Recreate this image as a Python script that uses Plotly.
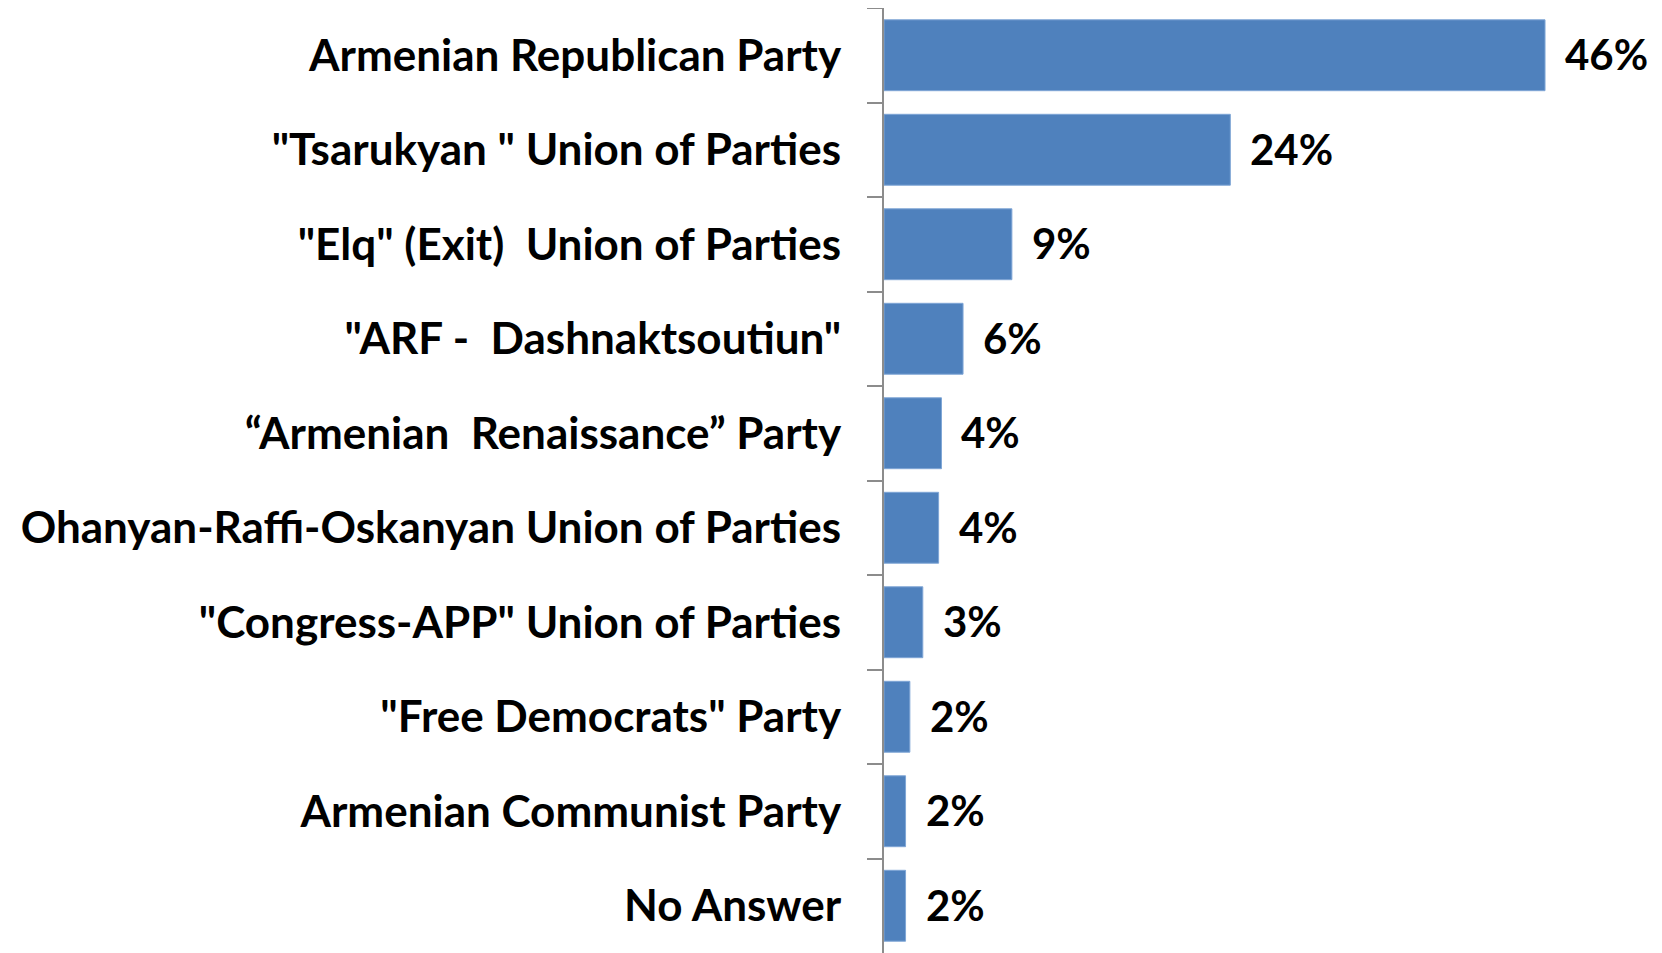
import plotly.graph_objects as go

categories = [
    "Armenian Republican Party",
    "\"Tsarukyan \" Union of Parties",
    "\"Elq\" (Exit)  Union of Parties",
    "\"ARF -  Dashnaktsoutiun\"",
    "“Armenian  Renaissance” Party",
    "Ohanyan-Raffi-Oskanyan Union of Parties",
    "\"Congress-APP\" Union of Parties",
    "\"Free Democrats\" Party",
    "Armenian Communist Party",
    "No Answer",
]
values = [46.0, 24.1, 8.9, 5.5, 4.0, 3.8, 2.7, 1.8, 1.5, 1.5]
labels = ["46%", "24%", "9%", "6%", "4%", "4%", "3%", "2%", "2%", "2%"]

FONT = "Lato"

fig = go.Figure()
fig.add_trace(go.Bar(
    x=values, y=categories, orientation="h",
    marker=dict(color="#4F81BD", line=dict(color="#7FA6D6", width=1)),
    width=0.75, hoverinfo="skip",
))

for c, v, t in zip(categories, values, labels):
    fig.add_annotation(x=v, y=c, text=t, showarrow=False, xanchor="left",
                       xshift=18, yshift=1,
                       font=dict(family=FONT, size=42, color="#000000", weight="bold"))

fig.update_layout(
    width=1654, height=945,
    margin=dict(l=876, r=0, t=0, b=0),
    paper_bgcolor="#ffffff", plot_bgcolor="rgba(0,0,0,0)",
    showlegend=False,
    bargap=0.25,
    font=dict(family=FONT, weight="bold"),
)
fig.update_xaxes(range=[0, (1662 - 884) / 14.37], showgrid=False, showticklabels=False,
                 zeroline=False, showline=False, ticks="")
fig.update_yaxes(categoryorder="array", categoryarray=categories, autorange="reversed",
                 showgrid=False, zeroline=False,
                 showline=True, linecolor="#8c8c8c", linewidth=2,
                 ticks="outside", tickson="boundaries", ticklen=15, tickwidth=2,
                 tickcolor="#8c8c8c", ticklabelstandoff=32,
                 tickfont=dict(family=FONT, size=44, color="#000000", weight="bold"))

fig.write_html("out.html")
